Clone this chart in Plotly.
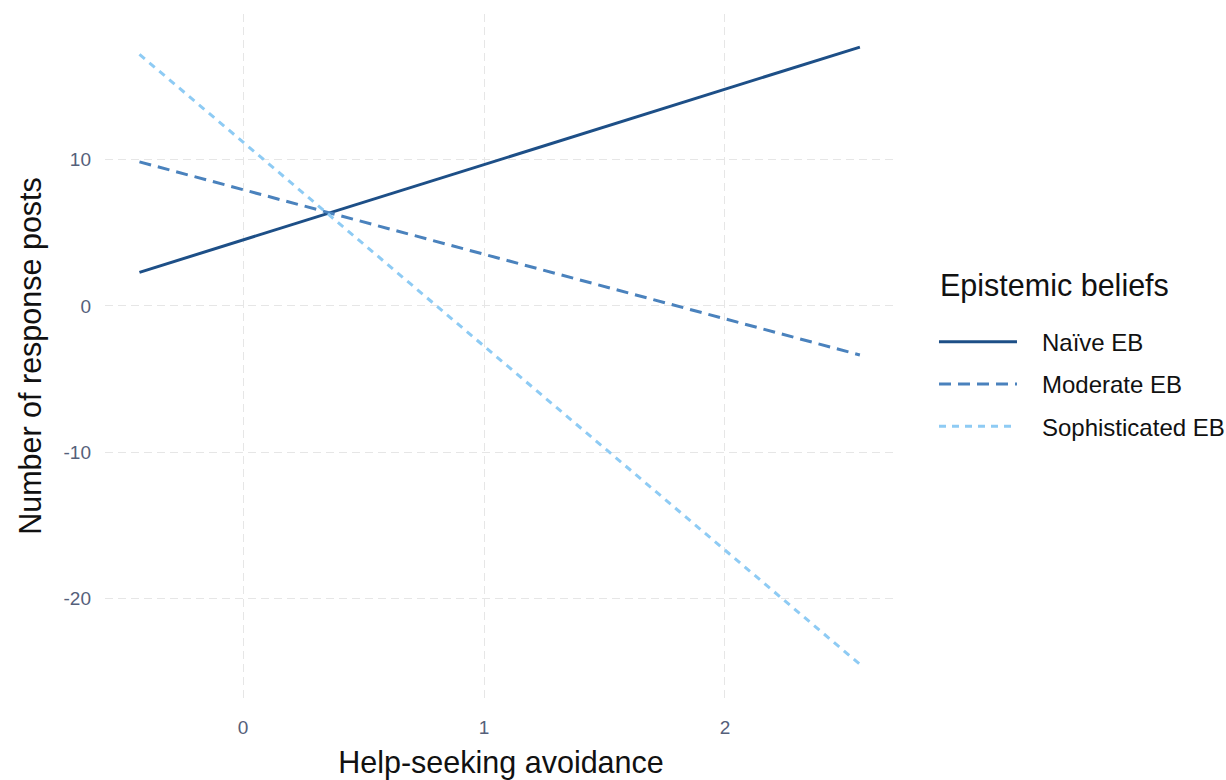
import plotly.graph_objects as go

avoidance = [-0.43, 2.56]
naive = [2.3, 17.7]
moderate = [9.85, -3.35]
sophisticated = [17.2, -24.5]

legend_title = "Epistemic beliefs"
series = [
    ("Naïve EB", naive, "#1d4f87", "solid"),
    ("Moderate EB", moderate, "#4a82bd", "12px,7px"),
    ("Sophisticated EB", sophisticated, "#8ecbf4", "7px,6px"),
]

PAD = "\u00a0\u00a0\u00a0"

fig = go.Figure()
for i, (name, vals, color, dash) in enumerate(series):
    fig.add_trace(go.Scatter(
        x=avoidance, y=vals, mode="lines", name=PAD + name,
        legendgroup=f"g{i}",
        line=dict(color=color, width=3, dash=dash),
    ))

grid = "#e6e6e6"
FONT = "Liberation Sans, Arial, sans-serif"
tickfont = dict(family=FONT, size=19, color="#55607a")
titlefont = dict(family=FONT, size=30.5, color="#111111")

fig.update_layout(
    width=1226, height=780,
    paper_bgcolor="white", plot_bgcolor="white",
    margin=dict(l=105, r=329, t=14, b=82, autoexpand=False),
    font=dict(family=FONT),
    xaxis=dict(
        range=[-0.573, 2.714], tickvals=[0, 1, 2], ticktext=["0", "1", "2"],
        showgrid=True, gridcolor=grid, griddash="8px,5px", gridwidth=1.4,
        zeroline=False, showline=False, ticks="", automargin=False,
        tickfont=tickfont, ticklabelstandoff=16,
        title=dict(text="Help-seeking avoidance", font=titlefont, standoff=20),
    ),
    yaxis=dict(
        range=[-26.8, 19.96], tickvals=[-20, -10, 0, 10], ticktext=["-20", "-10", "0", "10"],
        showgrid=True, gridcolor=grid, griddash="8px,5px", gridwidth=1.4,
        zeroline=False, showline=False, ticks="", automargin=False,
        tickfont=tickfont, ticklabelstandoff=13,
        title=dict(text="Number of response posts", font=titlefont, standoff=12),
    ),
    legend=dict(
        x=1.0467, y=0.553, xanchor="left", yanchor="top",
        font=dict(size=24, color="#111111", family=FONT),
        itemwidth=78, tracegroupgap=8,
        bgcolor="rgba(0,0,0,0)",
    ),
    annotations=[dict(
        text=legend_title, xref="paper", yref="paper",
        x=1.0515, y=0.603, xanchor="left", yanchor="middle",
        showarrow=False, font=dict(size=30.5, color="#111111", family=FONT),
    )],
    showlegend=True,
)

fig.write_html(
    "out.html",
    config={"displayModeBar": False},
    post_script="document.body.style.margin='0';document.body.style.overflow='hidden';",
)
